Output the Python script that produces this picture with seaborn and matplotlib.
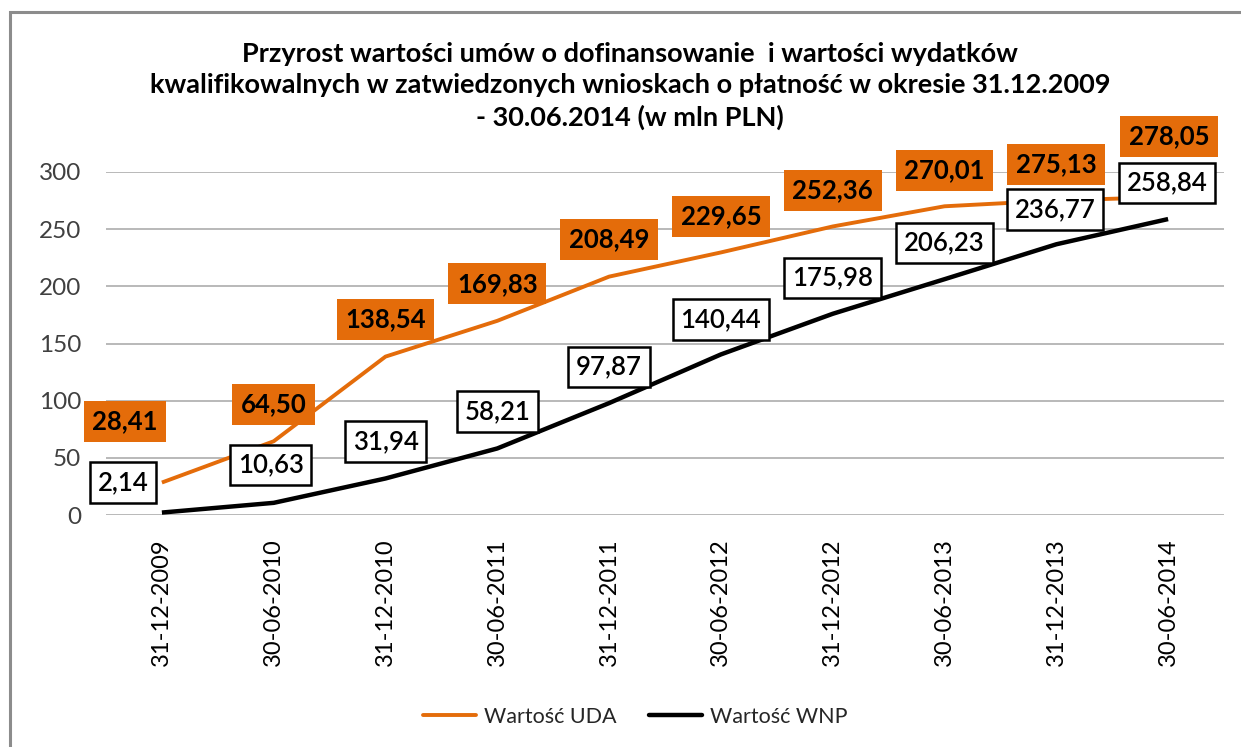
import matplotlib
matplotlib.use("Agg")
import matplotlib.pyplot as plt
import seaborn as sns
import pandas as pd
from matplotlib.patches import Rectangle
from matplotlib.lines import Line2D

# ---------------- data ----------------
dates = ["31-12-2009", "30-06-2010", "31-12-2010", "30-06-2011", "31-12-2011",
         "30-06-2012", "31-12-2012", "30-06-2013", "31-12-2013", "30-06-2014"]
uda_values = [28.41, 64.50, 138.54, 169.83, 208.49, 229.65, 252.36, 270.01, 275.13, 278.05]
wnp_values = [2.14, 10.63, 31.94, 58.21, 97.87, 140.44, 175.98, 206.23, 236.77, 258.84]
series_names = ["Wartość UDA", "Wartość WNP"]
y_ticks = [0, 50, 100, 150, 200, 250, 300]
title = ("Przyrost wartości umów o dofinansowanie  i wartości wydatków\n"
         "kwalifikowalnych w zatwiedzonych wnioskach o płatność w okresie 31.12.2009\n"
         "- 30.06.2014 (w mln PLN)")

# label offsets in pixels (dx, dy) -- layout only
uda_offsets = [(-37, 61), (0, 37), (0, 37), (0, 37), (0, 37),
               (0, 36), (0, 36), (0, 36), (0, 36), (1, 61)]
wnp_offsets = [(-39, 30), (-3, 38), (0, 37), (0, 37), (0, 36),
               (0, 35), (0, 36), (0, 36), (-1, 35), (-1, 36)]

ORANGE = "#E46C0A"
colors = {series_names[0]: ORANGE, series_names[1]: "#000000"}

df = pd.DataFrame({
    "date": dates * 2,
    "x": list(range(len(dates))) * 2,
    "value": uda_values + wnp_values,
    "series": [series_names[0]] * len(dates) + [series_names[1]] * len(dates),
})

sns.set_theme(style="white")
plt.rcParams["font.family"] = ["Lato", "DejaVu Sans"]

fig = plt.figure(figsize=(12.41, 7.47), dpi=100)
ax = fig.add_axes([106 / 1241, 1 - 515 / 747, 1118 / 1241, 343 / 747])

sns.lineplot(data=df, x="x", y="value", hue="series", palette=colors,
             ax=ax, legend=False, sort=False)
for line, lw in zip(ax.get_lines(), [2.8, 3.2]):
    line.set_linewidth(lw)
    line.set_solid_capstyle("butt")

ax.set_xlim(-0.5, len(dates) - 0.5)
ax.set_ylim(0, 300)
ax.set_yticks(y_ticks)
ax.set_yticklabels([str(t) for t in y_ticks], fontsize=17.5, color="#404040")
ax.set_xticks(range(len(dates)))
ax.set_xticklabels(dates, rotation=90, fontsize=17, color="#000000")
ax.tick_params(axis="y", length=0, pad=18)
ax.tick_params(axis="x", length=0, pad=17)
ax.set_xlabel("")
ax.set_ylabel("")
for s in ax.spines.values():
    s.set_visible(False)
ax.yaxis.grid(True, color="#A6A6A6", linewidth=1.1)
ax.set_axisbelow(True)

def fmt(v):
    return f"{v:.2f}".replace(".", ",")

for i, v in enumerate(uda_values):
    dx, dy = uda_offsets[i]
    ax.annotate(fmt(v), xy=(i, v), xytext=(dx, dy), textcoords="offset pixels",
                ha="center", va="center", fontsize=18.5, fontweight="bold",
                color="#000000", zorder=5,
                bbox=dict(boxstyle="square,pad=0.33", fc=ORANGE, ec="none"))
for i, v in enumerate(wnp_values):
    dx, dy = wnp_offsets[i]
    ax.annotate(fmt(v), xy=(i, v), xytext=(dx, dy), textcoords="offset pixels",
                ha="center", va="center", fontsize=18.5, fontweight="semibold",
                color="#000000", zorder=5,
                bbox=dict(boxstyle="square,pad=0.3", fc="white", ec="black", lw=1.8))

fig.text(630 / 1241, 1 - 86 / 747, title, ha="center", va="center",
         fontsize=19.5, fontweight="bold", linespacing=1.36, color="#000000")

handles = [Line2D([], [], color=ORANGE, lw=2.8), Line2D([], [], color="black", lw=3.2)]
fig.legend(handles, series_names, loc="center", ncol=2, frameon=False,
           bbox_to_anchor=(635 / 1241, 1 - 717 / 747), fontsize=15.5,
           handlelength=2.5, columnspacing=1.5, handletextpad=0.35)

fig.patches.append(Rectangle((10 / 1241, -0.1), 1.2, (1 - 12 / 747) + 0.1,
                             transform=fig.transFigure, fill=False,
                             ec="#8C8C8C", lw=2.2))

fig.savefig("out.png", dpi=100)
